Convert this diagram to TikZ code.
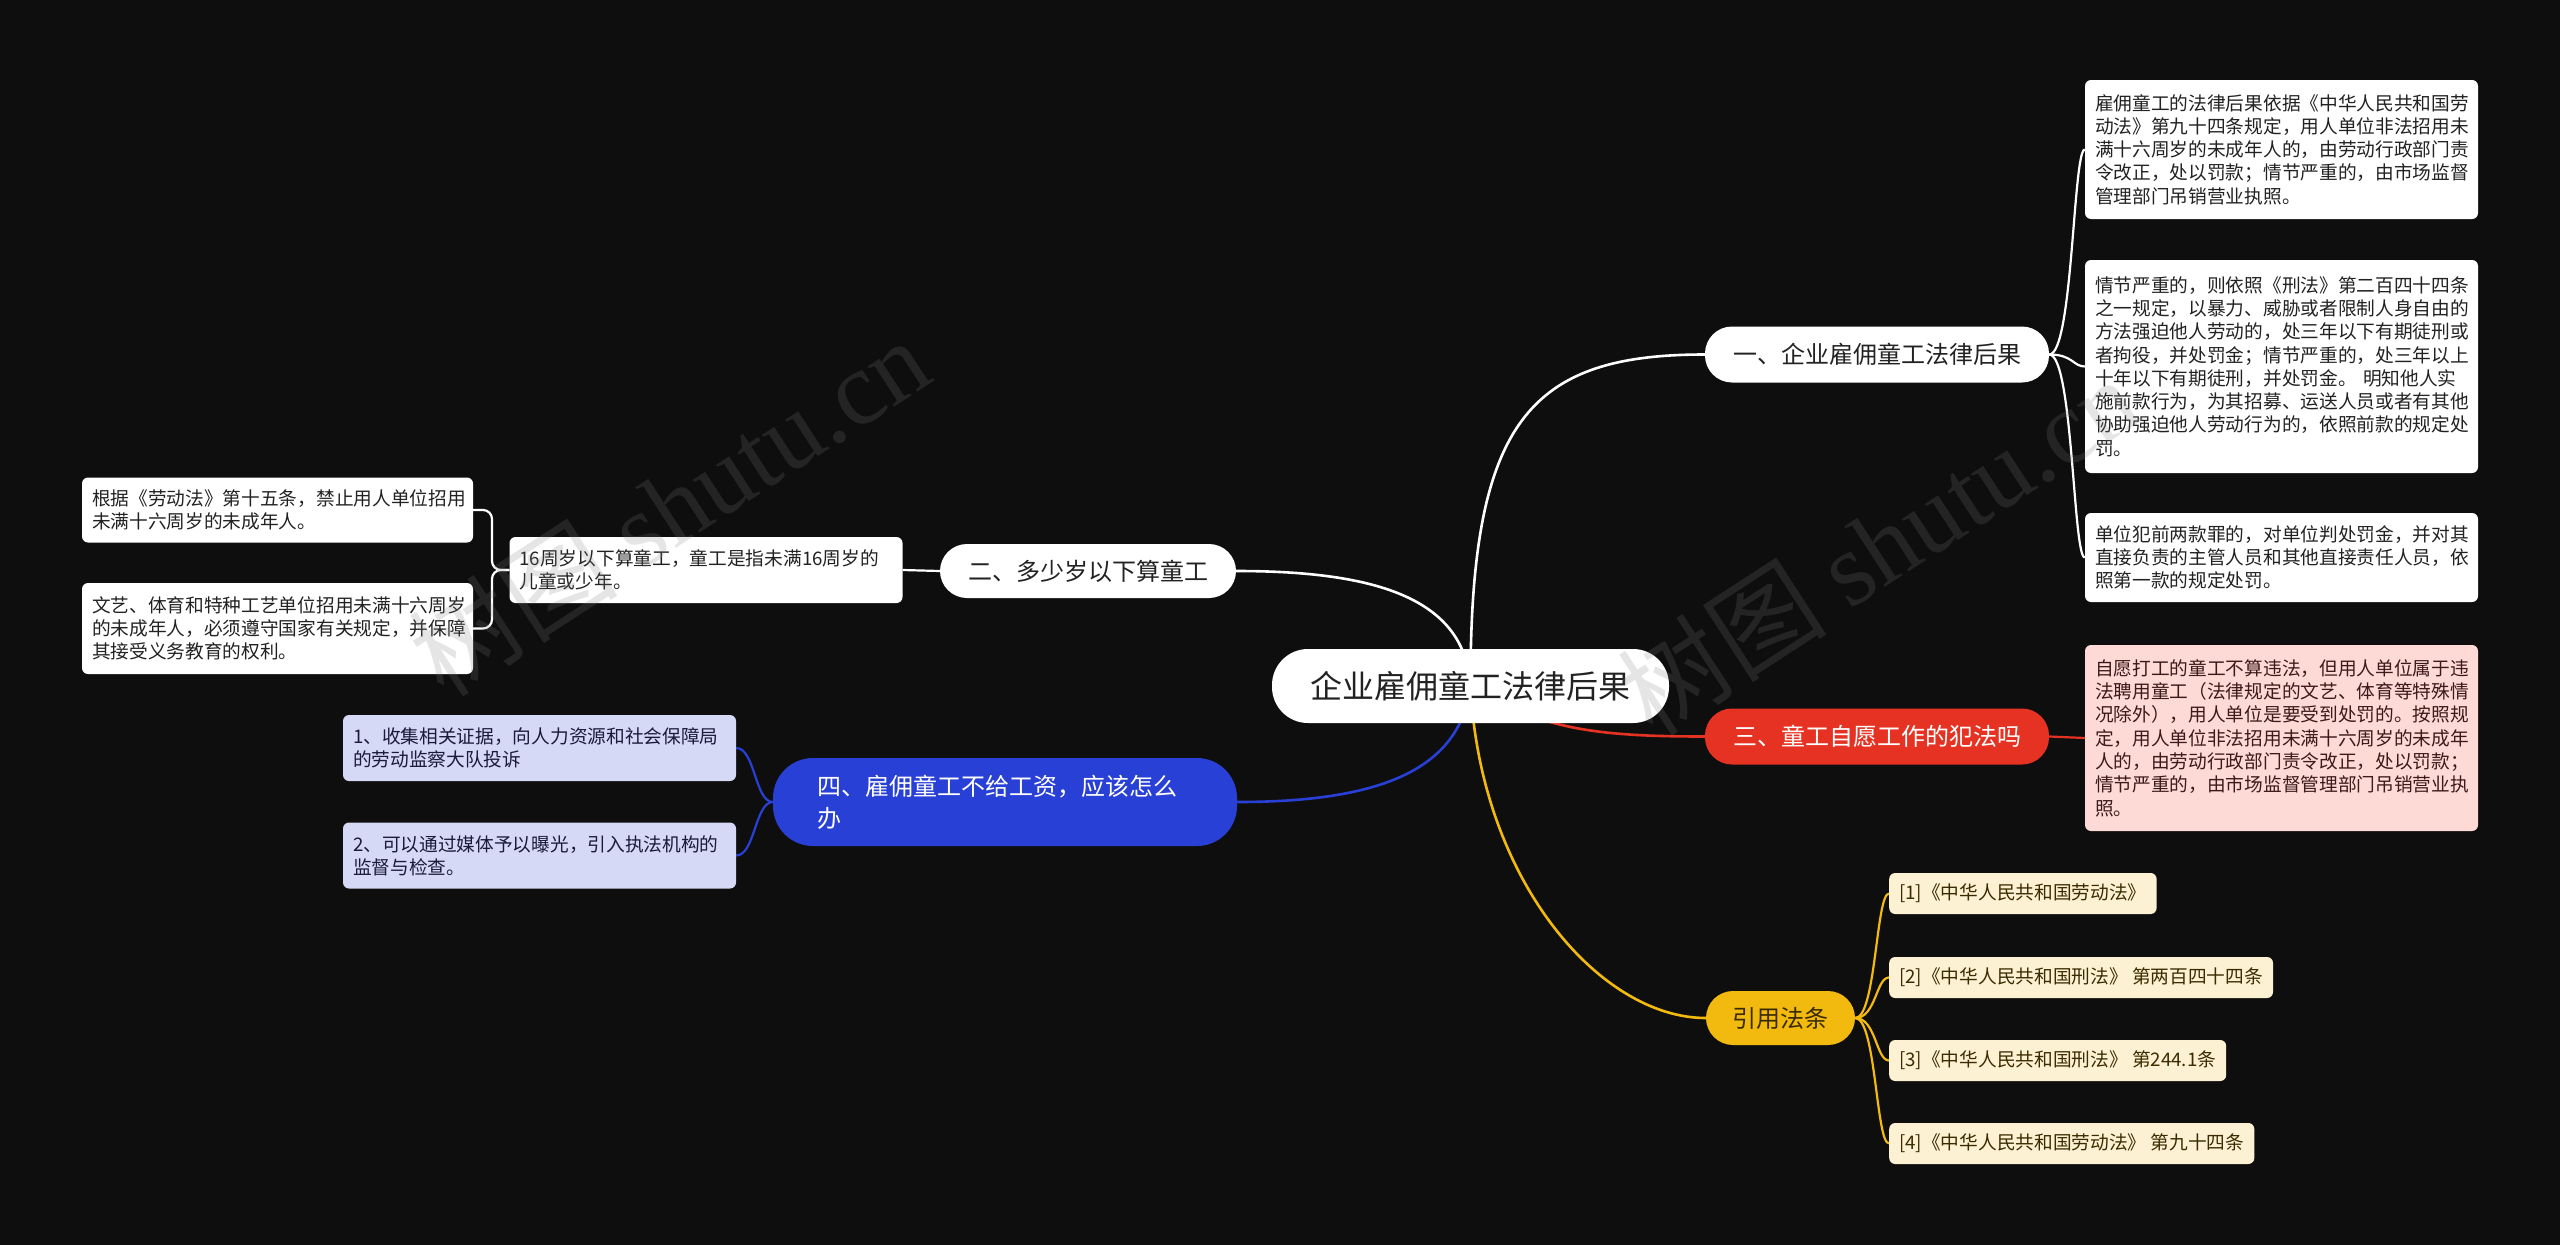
\documentclass[tikz,border=0pt]{standalone}
\usepackage{fontspec}
\setmainfont{Noto Sans CJK SC}
\newfontfamily\wmserif{Liberation Serif}
\usetikzlibrary{backgrounds}
\pgfdeclarelayer{back}
\pgfsetlayers{back,background,main}

\definecolor{bgc}{HTML}{0E0E0E}
\definecolor{txt}{HTML}{222222}
\definecolor{redc}{HTML}{E63223}
\definecolor{yelc}{HTML}{F2B90F}
\definecolor{bluec}{HTML}{2940D6}
\definecolor{blueleaf}{HTML}{D5D9F6}
\definecolor{redleaf}{HTML}{FDDAD6}
\definecolor{refleaf}{HTML}{FDF1D4}
\definecolor{reftxt}{HTML}{3A2C00}
\definecolor{redtxt}{HTML}{3A1A1A}
\definecolor{bluetxt}{HTML}{1A1A3A}

\tikzset{
  leafbox/.style={rounded corners=6pt, inner xsep=10pt, inner ysep=0pt,
    font=\fontsize{18.7}{23.3}\selectfont, align=left, text width=373pt, anchor=center},
  refbox/.style={rounded corners=6pt, inner xsep=10pt, inner ysep=0pt, fill=refleaf, text=reftxt,
    font=\fontsize{18.7}{23.3}\selectfont, minimum height=41pt, anchor=west},
  mainbox/.style={rounded corners=27pt, inner xsep=0pt, inner ysep=0pt,
    font=\fontsize{24}{30}\selectfont, minimum height=56pt, anchor=center},
  wline/.style={draw=white, line width=2.6pt},
  rline/.style={draw=redc, line width=2.6pt},
  yline/.style={draw=yelc, line width=2.6pt},
  bline/.style={draw=bluec, line width=2.6pt},
  wmark/.style={text=gray, opacity=0.2, rotate=33, font=\fontsize{105}{105}\selectfont},
}

\begin{document}
\begin{tikzpicture}[x=1pt,y=-1pt]
\useasboundingbox (0,0) rectangle (2560,1245);
\begin{pgfonlayer}{back}
\fill[bgc] (0,0) rectangle (2560,1245);
\end{pgfonlayer}

% root
\node[mainbox, fill=white, text=txt, rounded corners=36pt, minimum width=397pt, minimum height=74pt,
  font=\fontsize{32}{38}\selectfont] (root) at (1470.5,686) {企业雇佣童工法律后果};

% main branches
\node[mainbox, fill=white, text=txt, minimum width=344pt] (b1) at (1877,354.5) {一、企业雇佣童工法律后果};
\node[mainbox, fill=redc, text=white, minimum width=344pt] (b3) at (1877,736.5) {三、童工自愿工作的犯法吗};
\node[mainbox, fill=yelc, text=reftxt, minimum width=149pt, minimum height=54pt] (b5) at (1780.5,1018) {引用法条};
\node[mainbox, fill=white, text=txt, minimum width=296pt, minimum height=54pt] (b2) at (1088,571) {二、多少岁以下算童工};
\node[mainbox, fill=bluec, text=white, rounded corners=40pt, minimum width=464pt, minimum height=88pt,
  text width=376pt, align=left, font=\fontsize{24}{32}\selectfont] (b4) at (1005,802)
  {四、雇佣童工不给工资，应该怎么\\办};

% branch 1 leaves
\node[leafbox, fill=white, text=txt, minimum height=139pt] (l11) at (2281.5,149.5)
{雇佣童工的法律后果依据《中华人民共和国劳\\动法》第九十四条规定，用人单位非法招用未\\满十六周岁的未成年人的，由劳动行政部门责\\令改正，处以罚款；情节严重的，由市场监督\\管理部门吊销营业执照。};
\node[leafbox, fill=white, text=txt, minimum height=213pt] (l12) at (2281.5,366.5)
{情节严重的，则依照《刑法》第二百四十四条\\之一规定，以暴力、威胁或者限制人身自由的\\方法强迫他人劳动的，处三年以下有期徒刑或\\者拘役，并处罚金；情节严重的，处三年以上\\十年以下有期徒刑，并处罚金。 明知他人实\\施前款行为，为其招募、运送人员或者有其他\\协助强迫他人劳动行为的，依照前款的规定处\\罚。};
\node[leafbox, fill=white, text=txt, minimum height=89pt] (l13) at (2281.5,557.5)
{单位犯前两款罪的，对单位判处罚金，并对其\\直接负责的主管人员和其他直接责任人员，依\\照第一款的规定处罚。};

% branch 3 leaf
\node[leafbox, fill=redleaf, text=redtxt, minimum height=186pt] (l31) at (2281.5,738)
{自愿打工的童工不算违法，但用人单位属于违\\法聘用童工（法律规定的文艺、体育等特殊情\\况除外），用人单位是要受到处罚的。按照规\\定，用人单位非法招用未满十六周岁的未成年\\人的，由劳动行政部门责令改正，处以罚款；\\情节严重的，由市场监督管理部门吊销营业执\\照。};

% branch 5 refs
\node[refbox] (r1) at (1889,893.5) {[1]《中华人民共和国劳动法》};
\node[refbox] (r2) at (1889,977.5) {[2]《中华人民共和国刑法》 第两百四十四条};
\node[refbox] (r3) at (1889,1060.5) {[3]《中华人民共和国刑法》 第244.1条};
\node[refbox] (r4) at (1889,1143.5) {[4]《中华人民共和国劳动法》 第九十四条};

% branch 2 leaves
\node[leafbox, fill=white, text=txt, minimum height=66pt] (l21) at (706,570)
{16周岁以下算童工，童工是指未满16周岁的\\儿童或少年。};
\node[leafbox, fill=white, text=txt, minimum height=65pt, text width=371pt] (l22) at (277.5,510)
{根据《劳动法》第十五条，禁止用人单位招用\\未满十六周岁的未成年人。};
\node[leafbox, fill=white, text=txt, minimum height=91pt, text width=371pt] (l23) at (277.5,628.5)
{文艺、体育和特种工艺单位招用未满十六周岁\\的未成年人，必须遵守国家有关规定，并保障\\其接受义务教育的权利。};

% branch 4 leaves
\node[leafbox, fill=blueleaf, text=bluetxt, minimum height=66pt] (l41) at (539.5,748)
{1、收集相关证据，向人力资源和社会保障局\\的劳动监察大队投诉};
\node[leafbox, fill=blueleaf, text=bluetxt, minimum height=66pt] (l42) at (539.5,855.5)
{2、可以通过媒体予以曝光，引入执法机构的\\监督与检查。};

\begin{pgfonlayer}{background}
% root to branches
\draw[wline] (root.center) .. controls (1470,420) and (1530,354.5) .. (b1.west);
\draw[wline] (root.center) .. controls (1465,600) and (1380,571) .. (b2.east);
\draw[bline] (root.center) .. controls (1460,770) and (1380,802) .. (b4.east);
\draw[yline] (root.center) .. controls (1480,880) and (1600,1018) .. (b5.west);
\draw[rline] (root.center) .. controls (1540,730) and (1600,736.5) .. (b3.west);
% branch 1
\draw[wline, line width=2.2pt] (b1.east) .. controls (2073,354.5) and (2073,149.5) .. (l11.west);
\draw[wline, line width=2.2pt] (b1.east) .. controls (2073,354.5) and (2073,366.5) .. (l12.west);
\draw[wline, line width=2.2pt] (b1.east) .. controls (2073,354.5) and (2073,557.5) .. (l13.west);
% branch 3
\draw[rline, line width=2.2pt] (b3.east) -- (l31.west);
% branch 5
\draw[yline, line width=2.2pt] (b5.east) .. controls (1876,1018) and (1876,893.5) .. (r1.west);
\draw[yline, line width=2.2pt] (b5.east) .. controls (1876,1018) and (1876,977.5) .. (r2.west);
\draw[yline, line width=2.2pt] (b5.east) .. controls (1876,1018) and (1876,1060.5) .. (r3.west);
\draw[yline, line width=2.2pt] (b5.east) .. controls (1876,1018) and (1876,1143.5) .. (r4.west);
% branch 2
\draw[wline, line width=2.2pt] (b2.west) -- (l21.east);
\draw[wline, line width=2.2pt, rounded corners=9pt] (l21.west) -- (492,570) |- (l22.east);
\draw[wline, line width=2.2pt, rounded corners=9pt] (l21.west) -- (492,570) |- (l23.east);
% branch 4
\draw[bline, line width=2.2pt] (b4.west) .. controls (755,802) and (755,748) .. (l41.east);
\draw[bline, line width=2.2pt] (b4.west) .. controls (755,802) and (755,855.5) .. (l42.east);
\end{pgfonlayer}

% watermarks
\node[wmark] (wm1) at (669,506) {树图 {\wmserif shutu.cn}};
\node[wmark] (wm2) at (1878,545) {树图 {\wmserif shutu.cn}};
\end{tikzpicture}
\end{document}
